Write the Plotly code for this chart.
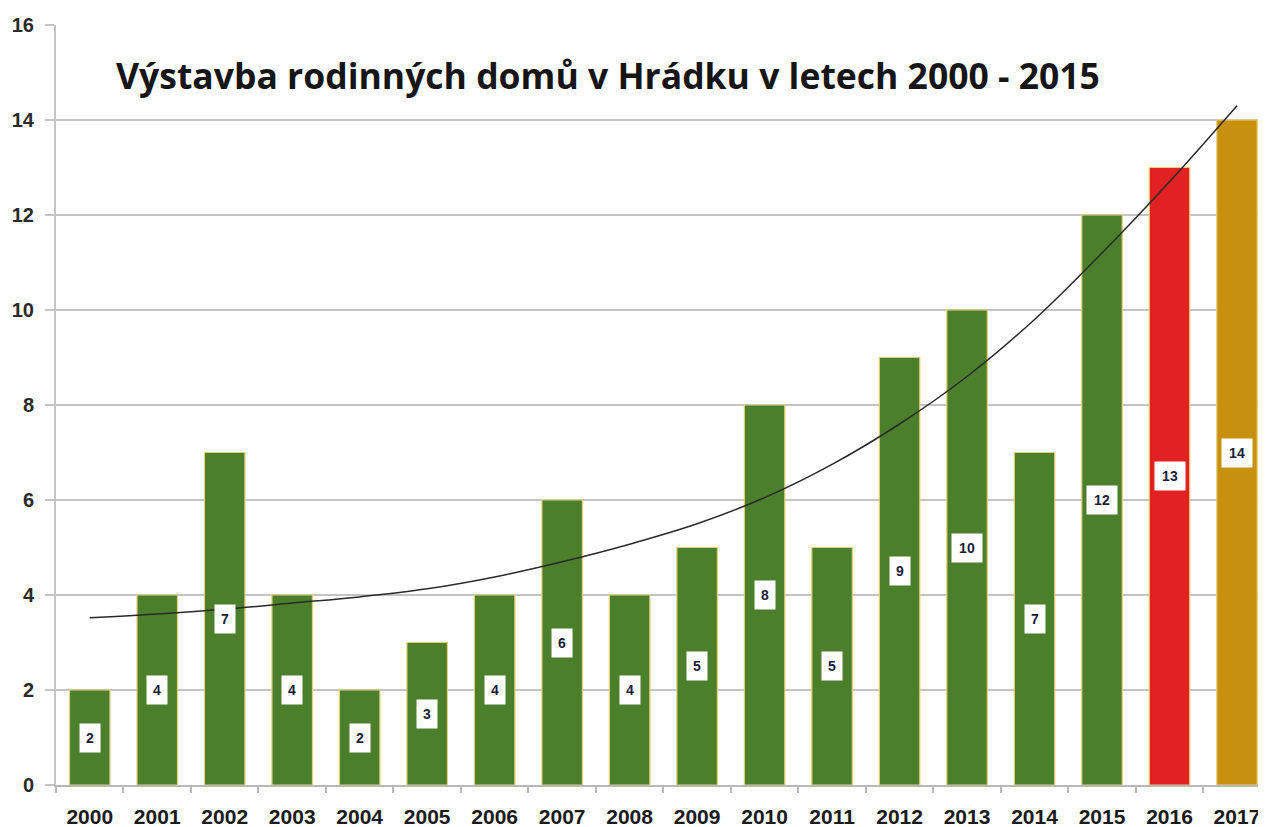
import plotly.graph_objects as go

years = [str(y) for y in range(2000, 2018)]
values = [2, 4, 7, 4, 2, 3, 4, 6, 4, 5, 8, 5, 9, 10, 7, 12, 13, 14]
trend = [3.52, 3.6, 3.7, 3.83, 3.96, 4.13, 4.38, 4.7, 5.07, 5.5, 6.05, 6.75, 7.6, 8.6, 9.8, 11.2, 12.7, 14.3]
bar_colors = ["#4b7f2b"] * 16 + ["#e22222", "#c8900f"]
title_text = "Výstavba rodinných domů v Hrádku v letech 2000 - 2015"
y_ticks = [0, 2, 4, 6, 8, 10, 12, 14, 16]

fig = go.Figure()
fig.add_trace(go.Bar(
    x=years, y=values, width=0.6,
    marker=dict(color=bar_colors, line=dict(color="#e6cf7a", width=1.2)),
    hoverinfo="x+y", showlegend=False,
))
fig.add_trace(go.Scatter(
    x=years, y=trend, mode="lines",
    line=dict(color="#2a2a2a", width=1.5, shape="spline", smoothing=1.0),
    showlegend=False, hoverinfo="skip",
))

for i, v in enumerate(values):
    fig.add_annotation(
        x=i, y=v / 2, text=f"<b>{v}</b>", showarrow=False,
        font=dict(family="Liberation Sans, Arial", size=14, color="#1c1c38"),
        bgcolor="white", width=18 if v < 10 else 28, height=26, borderpad=1,
    )

fig.add_annotation(
    xref="paper", yref="paper", x=0.0, y=1.0,
    xanchor="left", yanchor="middle",
    xshift=58, yshift=-50,
    text=f"<b>{title_text}</b>", showarrow=False,
    font=dict(family="Open Sans, Noto Sans, sans-serif", size=35.5, color="#151515"),
)

fig.update_layout(
    width=1258, height=819,
    margin=dict(l=48, r=0, t=17, b=42),
    paper_bgcolor="white", plot_bgcolor="white",
    xaxis=dict(
        type="category", range=[-0.5, 17.43], automargin=False,
        showline=True, linecolor="#b8b8b8", linewidth=2,
        ticks="outside", tickson="boundaries", ticklen=6, tickcolor="#b8b8b8", tickwidth=2,
        tickfont=dict(family="Liberation Sans, Arial", size=21, color="#1a1a1a", weight="bold"),
        ticklabelstandoff=12,
        showgrid=False,
    ),
    yaxis=dict(
        range=[0, 16], tickvals=y_ticks, automargin=False,
        showline=True, linecolor="#c4c4c4", linewidth=2,
        ticks="outside", ticklen=9, tickcolor="#c4c4c4", tickwidth=2,
        showgrid=True, gridcolor="#c4c4c4", gridwidth=2,
        zeroline=False,
        tickfont=dict(family="Liberation Sans, Arial", size=20, color="#2a2a2a", weight="bold"),
        ticklabelstandoff=7,
    ),
)

fig.write_html("out.html")
